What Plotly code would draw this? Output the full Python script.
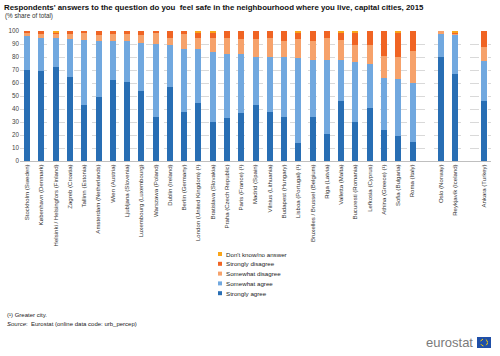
import plotly.graph_objects as go

cities = [
    "Stockholm (Sweden)", "København (Denmark)", "Helsinki / Helsingfors (Finland)",
    "Zagreb (Croatia)", "Tallinn (Estonia)", "Amsterdam (Netherlands)", "Wien (Austria)",
    "Ljubljana (Slovenia)", "Luxembourg (Luxembourg)", "Warszawa (Poland)", "Dublin (Ireland)",
    "Berlin (Germany)", "London (United Kingdom) (¹)", "Bratislava (Slovakia)",
    "Praha (Czech Republic)", "Paris (France) (¹)", "Madrid (Spain)", "Vilnius (Lithuania)",
    "Budapest (Hungary)", "Lisboa (Portugal) (¹)", "Bruxelles / Brussel (Belgium)",
    "Riga (Latvia)", "Valletta (Malta)", "Bucuresti (Romania)", "Lefkosia (Cyprus)",
    "Athina (Greece) (¹)", "Sofia (Bulgaria)", "Roma (Italy)",
    "Oslo (Norway)", "Reykjavík (Iceland)",
    "Ankara (Turkey)",
]
strongly_agree = [70, 69, 72, 65, 43, 49, 62, 61, 54, 34, 57, 38, 45, 30, 33, 37, 43, 38, 34, 14,
                  34, 21, 46, 30, 41, 24, 19, 15, 80, 67, 46]
somewhat_agree = [26, 26, 23, 29, 50, 43, 30, 31, 37, 56, 32, 48, 41, 54, 49, 45, 37, 42, 46, 65,
                  44, 57, 32, 46, 34, 40, 44, 45, 18, 30, 31]
somewhat_disagree = [3, 3, 3, 4, 6, 5, 6, 6, 6, 9, 6, 12, 9, 11, 13, 12, 14, 15, 12, 15,
                     14, 17, 15, 13, 14, 17, 17, 25, 2, 1, 11]
strongly_disagree = [1, 2, 1, 2, 1, 3, 2, 2, 3, 1, 5, 2, 4, 4, 5, 6, 6, 5, 8, 5,
                     8, 5, 6, 10, 11, 19, 19, 15, 0, 1, 12]
dont_know = [0, 0, 1, 0, 0, 0, 0, 0, 0, 0, 0, 0, 1, 1, 0, 0, 0, 0, 0, 1,
             0, 0, 1, 1, 0, 0, 1, 0, 0, 1, 0]

series_names = ["Strongly agree", "Somewhat agree", "Somewhat disagree",
                "Strongly disagree", "Don't know/no answer"]
series_values = [strongly_agree, somewhat_agree, somewhat_disagree, strongly_disagree, dont_know]
colors = ["#286EB4", "#71A8DF", "#F6A26B", "#F06423", "#FAA519"]

# group separators (empty categories) after EU cities and after EFTA cities
groups = [(0, 28), (28, 30), (30, 31)]
gap_labels = [" ", "  "]


def with_gaps(values, fill):
    out = []
    for gi, (a, b) in enumerate(groups):
        out += list(values[a:b])
        if gi < len(gap_labels):
            out.append(fill[gi] if isinstance(fill, list) else fill)
    return out


x_cats = with_gaps(cities, gap_labels)

fig = go.Figure()
for name, vals, col in zip(series_names, series_values, colors):
    fig.add_trace(go.Bar(
        x=x_cats, y=with_gaps(vals, None), name=name,
        marker=dict(color=col, line=dict(width=0)),
    ))

font_family = "Liberation Sans, Arial, sans-serif"

L, R, T, B = 20, 9, 31, 195
PW, PH = 500 - L - R, 356 - T - B

fig.update_layout(
    width=500, height=356,
    barmode="stack", bargap=0.58,
    margin=dict(l=L, r=R, t=T, b=B, autoexpand=False),
    paper_bgcolor="white", plot_bgcolor="white",
    font=dict(family=font_family, size=6, color="#333333"),
    showlegend=False,
    xaxis=dict(
        type="category", categoryorder="array", categoryarray=x_cats,
        tickangle=-90, tickfont=dict(size=6.05, color="#333333"),
        showgrid=False, showline=True, linecolor="#bfbfbf", linewidth=1,
        ticks="", automargin=False,
    ),
    yaxis=dict(
        range=[0, 100], dtick=10, tickfont=dict(size=6.3, color="#444444"),
        showgrid=True, gridcolor="#d9d9d9", gridwidth=1, griddash="dash",
        zeroline=False, showline=False, ticks="", automargin=False,
    ),
)


def px_x(x):
    return (x - L) / PW


def px_y(y):
    return (356 - B - y) / PH


def cont(text, x, y, size, color="#222222", xanchor="left"):
    fig.add_annotation(text=text, xref="paper", yref="paper",
                       x=px_x(x), y=px_y(y),
                       xanchor=xanchor, yanchor="middle", showarrow=False,
                       font=dict(size=size, color=color, family=font_family))


cont("<b>Respondents' answers to the question do you  feel safe in the neighbourhood where you live, capital cities, 2015</b>",
     2, 7, 7.85, "#111111")
cont("(% share of total)", 3, 16, 6.3, "#333333")
cont("(¹) Greater city.", 5, 315, 6, "#222222")
cont("<i>Source</i>:  Eurostat (online data code: urb_percep)", 5, 324, 6, "#222222")
cont("eurostat", 475, 342, 13, "#7a7a7a", xanchor="right")

# manual legend (reversed order: last series on top)
leg_y0, leg_dy = 254, 9.8
for i, (name, col) in enumerate(reversed(list(zip(series_names, colors)))):
    yy = leg_y0 + i * leg_dy
    fig.add_shape(type="rect", xref="paper", yref="paper",
                  x0=px_x(218), x1=px_x(222), y0=px_y(yy + 2), y1=px_y(yy - 2),
                  fillcolor=col, line=dict(width=0))
    cont(name, 223.5, yy, 6.2, "#222222")

# EU flag box of the logo
fig.add_shape(type="rect", xref="paper", yref="paper",
              x0=px_x(477), x1=px_x(491), y0=px_y(348), y1=px_y(337),
              fillcolor="#1F4FA8", line=dict(width=0))
fig.add_shape(type="circle", xref="paper", yref="paper",
              x0=px_x(480.5), x1=px_x(487.5), y0=px_y(346), y1=px_y(339),
              line=dict(color="#FFD500", width=1, dash="dot"))

fig.write_html("out.html",
               config={"displayModeBar": False},
               post_script="document.body.style.margin='0px';document.body.style.overflow='hidden';")
